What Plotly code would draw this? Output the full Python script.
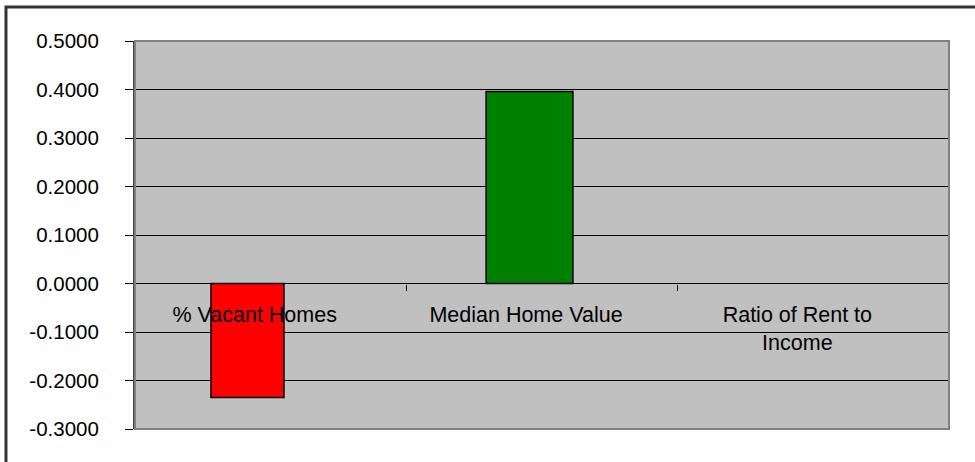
import plotly.graph_objects as go

# Housing indicators and their scores
categories = ["% Vacant Homes", "Median Home Value", "Ratio of Rent to<br>Income"]
scores = [-0.235, 0.396, None]
bar_colors = ["#FF0000", "#008000", "#808080"]
bar_widths = [0.269, 0.32, 0.3]
bar_offsets = [-0.22, -0.206, -0.15]

# Value axis ticks and their printed labels
y_ticks = [-0.3, -0.2, -0.1, 0.0, 0.1, 0.2, 0.3, 0.4, 0.5]
y_tick_labels = [f"{v:.4f}".replace("-0.0000", "0.0000") for v in y_ticks]

FONT = "Liberation Sans, Arial, sans-serif"

fig = go.Figure()
fig.add_trace(go.Bar(
    x=categories,
    y=scores,
    width=bar_widths,
    offset=bar_offsets,
    marker=dict(color=bar_colors, line=dict(color="#000000", width=1.5)),
    showlegend=False,
    hoverinfo="x+y",
))

fig.update_layout(
    width=975,
    height=462,
    margin=dict(l=135, r=26, t=41, b=33),
    paper_bgcolor="#FFFFFF",
    plot_bgcolor="#C0C0C0",
    font=dict(family=FONT, size=20.5, color="#000000"),
    showlegend=False,
    # category axis sits on the zero line, ticks between categories
    xaxis=dict(
        type="category",
        range=[-0.5, 2.5],
        anchor="free",
        position=0.375,
        showgrid=False,
        showline=False,
        zeroline=False,
        ticks="outside",
        tickson="boundaries",
        ticklen=6,
        tickwidth=1,
        tickcolor="#000000",
        ticklabelstandoff=16,
        ticklabelshift=-16,
        tickfont=dict(family=FONT, size=21.5, color="#000000"),
    ),
    yaxis=dict(
        range=[-0.3, 0.5],
        tickvals=y_ticks,
        ticktext=y_tick_labels,
        showgrid=True,
        gridcolor="#000000",
        gridwidth=1,
        zeroline=True,
        zerolinecolor="#000000",
        zerolinewidth=1,
        showline=True,
        linecolor="#404040",
        linewidth=2,
        ticks="outside",
        ticklen=8,
        tickwidth=1,
        tickcolor="#000000",
        ticklabelstandoff=22,
        tickfont=dict(family=FONT, size=20.5, color="#000000"),
        layer="above traces",
    ),
    shapes=[
        # plot area frame
        dict(type="rect", xref="paper", yref="paper", x0=0, x1=1, y0=0, y1=1,
             line=dict(color="#808080", width=2), fillcolor="rgba(0,0,0,0)",
             layer="above"),
        # chart border
        dict(type="rect", xref="paper", yref="paper",
             x0=-0.1585, x1=1.2, y0=-0.3, y1=1.0876,
             line=dict(color="#333333", width=3), fillcolor="rgba(0,0,0,0)",
             layer="above"),
    ],
)

fig.write_html("out.html")
